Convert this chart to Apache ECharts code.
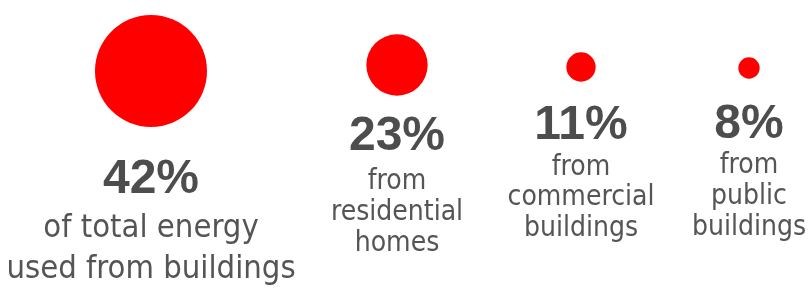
<!DOCTYPE html>
<html>
<head>
<meta charset="utf-8">
<script src="https://cdn.jsdelivr.net/npm/echarts@6/dist/echarts.min.js"></script>
<style>
  html, body { margin: 0; padding: 0; background: #fff; }
  #chart { width: 808px; height: 290px; }
</style>
</head>
<body>
<div id="chart"></div>
<script>
// data
var categories = ['buildings', 'residential', 'commercial', 'public'];
var shares = [42, 23, 11, 8];
var captions = [
  ['of total energy', 'used from buildings'],
  ['from', 'residential', 'homes'],
  ['from', 'commercial', 'buildings'],
  ['from', 'public', 'buildings']
];

// layout (pixel centre of each group) and text styles
var centers = [[151, 71], [397, 65], [581, 67], [749, 68]];
var labelStyle = [
  { distance: 24, numLH: 57, txtSize: 32.5, txtLH: 41 },
  { distance: 11.5, numLH: 59, txtSize: 28, txtLH: 31 },
  { distance: 17.5, numLH: 53, txtSize: 28, txtLH: 30.5 },
  { distance: 20, numLH: 52, txtSize: 28, txtLH: 31 }
];
var pxPerPoint = 2.667; // circle diameter per percent

var txtFont = "'Liberation Sans Narrow', 'DejaVu Sans Condensed', 'Liberation Sans', sans-serif";
var numFont = "'Liberation Sans', sans-serif";

var myChart = echarts.init(document.getElementById('chart'));

var grids = [], xAxes = [], yAxes = [], series = [];
categories.forEach(function (cat, i) {
  var c = centers[i];
  var ls = labelStyle[i];
  grids.push({ left: c[0] - 50, top: c[1] - 50, width: 100, height: 100 });
  xAxes.push({ type: 'category', gridIndex: i, data: [cat], show: false });
  yAxes.push({ type: 'category', gridIndex: i, data: [cat], show: false });
  series.push({
    type: 'scatter',
    xAxisIndex: i,
    yAxisIndex: i,
    data: [[cat, cat, shares[i]]],
    symbol: 'circle',
    symbolSize: function (v) { return v[2] * pxPerPoint; },
    itemStyle: { color: '#ff0000', opacity: 1 },
    silent: true,
    label: {
      show: true,
      position: 'bottom',
      distance: ls.distance,
      align: 'center',
      formatter: function () {
        var lines = ['{n|' + shares[i] + '%}'];
        captions[i].forEach(function (t) { lines.push('{t|' + t + '}'); });
        return lines.join('\n');
      },
      rich: {
        n: {
          fontFamily: numFont,
          fontWeight: 'bold',
          fontSize: 48,
          lineHeight: ls.numLH,
          color: '#4d4d4d',
          align: 'center'
        },
        t: {
          fontFamily: txtFont,
          fontSize: ls.txtSize,
          lineHeight: ls.txtLH,
          color: '#555555',
          align: 'center'
        }
      }
    }
  });
});

myChart.setOption({
  animation: false,
  grid: grids,
  xAxis: xAxes,
  yAxis: yAxes,
  series: series
});
</script>
</body>
</html>
